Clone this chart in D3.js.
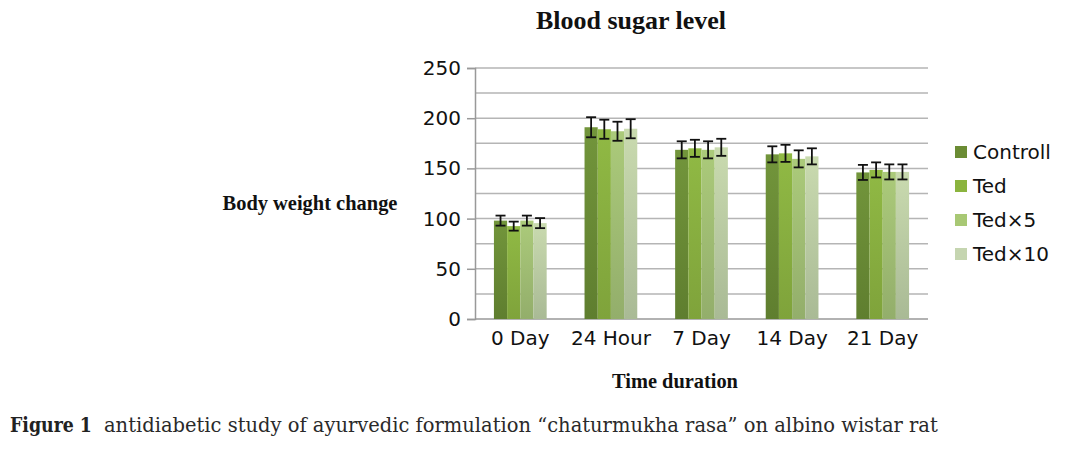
<!DOCTYPE html>
<html><head><meta charset="utf-8">
<script src="https://cdn.jsdelivr.net/npm/d3@7"></script>
<style>body{margin:0;background:#fff;}svg{display:block;}</style>
</head><body>
<svg id="chart" width="1070" height="456"></svg>
<script>
const categories = ["0 Day", "24 Hour", "7 Day", "14 Day", "21 Day"];
const seriesNames = ["Controll", "Ted", "Ted×5", "Ted×10"];
const controll = [98, 191, 168.5, 164, 146];
const ted      = [92.5, 189, 170, 165, 148.5];
const ted5     = [98, 187, 168.5, 159.5, 146.5];
const ted10    = [95.5, 189.5, 171, 162, 146.5];
const errControll = [5, 10, 8.5, 8, 7.5];
const errTed      = [4.5, 9.5, 8.5, 8.5, 7.5];
const errTed5     = [5, 9.5, 8.5, 8.5, 7.5];
const errTed10    = [5, 9.5, 8.5, 8, 7.5];
const yTicks = [0, 50, 100, 150, 200, 250];
const gridValues = [25, 50, 75, 100, 125, 150, 175, 200, 225, 250];

const seriesValues = [controll, ted, ted5, ted10];
const seriesErrors = [errControll, errTed, errTed5, errTed10];
const colorsTop = ["#72953b", "#90b944", "#abca7a", "#c9daaf"];
const colorsBot = ["#5f7e2f", "#7fa33b", "#93ae6b", "#a9ba95"];
const legendColors = ["#6b8c34", "#8bb43e", "#a8c874", "#c5d5b0"];

const svg = d3.select("#chart");
const pLeft = 475, pRight = 928, pTop = 68, pBottom = 319;

const y = d3.scaleLinear().domain([0, 250]).range([pBottom, pTop]);
const x0 = d3.scaleBand().domain(categories).range([pLeft, pRight]).paddingInner(0.418).paddingOuter(0.209);
const x1 = d3.scaleBand().domain(seriesNames).range([0, x0.bandwidth()]);

const defs = svg.append("defs");
seriesNames.forEach((s, i) => {
  const g = defs.append("linearGradient").attr("id", "grad" + i)
    .attr("x1", 0).attr("y1", 0).attr("x2", 0).attr("y2", 1);
  g.append("stop").attr("offset", "0%").attr("stop-color", colorsTop[i]);
  g.append("stop").attr("offset", "100%").attr("stop-color", colorsBot[i]);
});

// gridlines
svg.append("g").selectAll("line").data(gridValues).join("line")
  .attr("x1", pLeft).attr("x2", pRight)
  .attr("y1", d => y(d)).attr("y2", d => y(d))
  .attr("stroke", "#b5b5b5").attr("stroke-width", 1.5);

// y axis
const yAxis = d3.axisLeft(y).tickValues(yTicks).tickSize(8).tickPadding(6);
const gy = svg.append("g").attr("transform", `translate(${pLeft},0)`).call(yAxis);
gy.select(".domain").attr("stroke", "#999").attr("stroke-width", 1.5);
gy.selectAll(".tick line").attr("stroke", "#999").attr("stroke-width", 1.5);
gy.selectAll(".tick text").attr("font-family", "DejaVu Sans").attr("font-size", 20).attr("fill", "#111");

// x axis baseline
svg.append("line").attr("x1", pLeft).attr("x2", pRight).attr("y1", y(0)).attr("y2", y(0))
  .attr("stroke", "#999").attr("stroke-width", 1.5);
const xAxis = d3.axisBottom(x0).tickSize(0).tickPadding(12);
const gx = svg.append("g").attr("transform", `translate(0,${pBottom})`).call(xAxis);
gx.select(".domain").remove();
gx.selectAll(".tick text").attr("font-family", "DejaVu Sans").attr("font-size", 20).attr("fill", "#111");

// bars
const groups = svg.append("g").selectAll("g").data(categories).join("g")
  .attr("transform", d => `translate(${x0(d)},0)`);
groups.selectAll("rect").data((c, ci) => seriesNames.map((s, si) => ({s, si, v: seriesValues[si][ci]})))
  .join("rect")
  .attr("x", d => x1(d.s)).attr("width", x1.bandwidth())
  .attr("y", d => y(d.v)).attr("height", d => y(0) - y(d.v))
  .attr("fill", d => `url(#grad${d.si})`);

// error bars
const eg = groups.selectAll("g.err").data((c, ci) => seriesNames.map((s, si) => ({s, v: seriesValues[si][ci], e: seriesErrors[si][ci]})))
  .join("g").attr("class", "err")
  .attr("transform", d => `translate(${x1(d.s) + x1.bandwidth() / 2},0)`);
eg.append("line").attr("y1", d => y(d.v + d.e)).attr("y2", d => y(d.v - d.e)).attr("stroke", "#111").attr("stroke-width", 1.8);
eg.append("line").attr("x1", -5).attr("x2", 5).attr("y1", d => y(d.v + d.e)).attr("y2", d => y(d.v + d.e)).attr("stroke", "#111").attr("stroke-width", 1.8);
eg.append("line").attr("x1", -5).attr("x2", 5).attr("y1", d => y(d.v - d.e)).attr("y2", d => y(d.v - d.e)).attr("stroke", "#111").attr("stroke-width", 1.8);

// legend
const lg = svg.append("g").selectAll("g").data(seriesNames).join("g")
  .attr("transform", (d, i) => `translate(955,${152 + i * 34})`);
lg.append("rect").attr("x", 0).attr("y", -6).attr("width", 12).attr("height", 12)
  .attr("fill", (d, i) => legendColors[i]);
lg.append("text").attr("x", 18).attr("y", 0).attr("dy", "0.35em")
  .attr("font-family", "DejaVu Sans").attr("font-size", 20).attr("fill", "#111").text(d => d);

// title & axis titles
function fitText(sel, target) {
  const w = sel.node().getComputedTextLength();
  const fs = parseFloat(sel.attr("font-size"));
  sel.attr("font-size", fs * target / w);
}
function squeezeText(sel, x0pos, target) {
  const w = sel.node().getComputedTextLength();
  const k = target / w;
  sel.attr("x", 0).attr("transform", `translate(${x0pos},0) scale(${k},1)`);
}
const title = svg.append("text").attr("x", 631).attr("y", 29).attr("text-anchor", "middle")
  .attr("font-family", "Liberation Serif").attr("font-weight", "bold").attr("font-size", 24)
  .attr("fill", "#111").text("Blood sugar level");
fitText(title, 190);
const yt = svg.append("text").attr("x", 310).attr("y", 210).attr("text-anchor", "middle")
  .attr("font-family", "Liberation Serif").attr("font-weight", "bold").attr("font-size", 18)
  .attr("fill", "#111").text("Body weight change");
fitText(yt, 175);
const xt = svg.append("text").attr("x", 675).attr("y", 388).attr("text-anchor", "middle")
  .attr("font-family", "Liberation Serif").attr("font-weight", "bold").attr("font-size", 18)
  .attr("fill", "#111").text("Time duration");
fitText(xt, 126);

// caption
const capBold = svg.append("text").attr("y", 432)
  .attr("font-family", "DejaVu Serif").attr("font-weight", "bold").attr("font-size", 21)
  .attr("fill", "#222").text("Figure 1");
squeezeText(capBold, 10, 82);
const capText = svg.append("text").attr("y", 432)
  .attr("font-family", "DejaVu Serif").attr("font-size", 21).attr("fill", "#2a2a2a")
  .text("antidiabetic study of ayurvedic formulation “chaturmukha rasa” on albino wistar rat");
squeezeText(capText, 104, 834);
</script>
</body></html>
